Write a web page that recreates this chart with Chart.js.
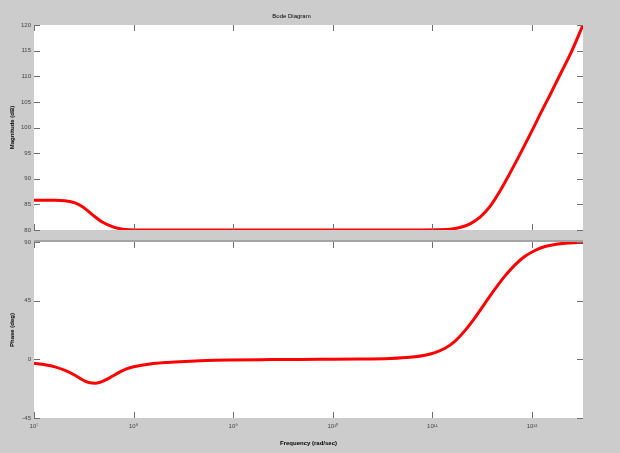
<!DOCTYPE html>
<html>
<head>
<meta charset="utf-8">
<script src="https://cdn.jsdelivr.net/npm/chart.js@4"></script>
<style>
  html, body { margin: 0; padding: 0; background: #cccccc; }
  #wrap { position: relative; width: 620px; height: 453px; background: #cccccc; overflow: hidden; }
  #wrap canvas { position: absolute; left: 0; }
  #mag { top: 0; }
  #phase { top: 236px; }
</style>
</head>
<body>
<div id="wrap">
  <canvas id="mag" width="620" height="236"></canvas>
  <canvas id="phase" width="620" height="217"></canvas>
</div>
<script>
// Bode diagram — magnitude (dB) and phase (deg) vs frequency (rad/sec)
const magFreq = [1.0e7, 1.62e7, 2.05e7, 2.58e7, 3.1e7, 3.9e7, 4.9e7, 6.2e7, 7.8e7, 1.03e8, 4.6e8, 4.7e9, 4.7e10,
  1.19e11, 1.5e11, 1.89e11, 2.39e11, 3.01e11, 3.79e11, 4.77e11, 6.01e11, 7.58e11, 9.55e11, 1.2e12, 1.52e12, 1.91e12, 2.41e12, 3.25e12];
const magDb = [85.8, 85.8, 85.7, 85.3, 84.5, 82.9, 81.5, 80.6, 80.15, 80.0, 80.0, 80.0, 80.0,
  80.05, 80.15, 80.5, 81.2, 82.5, 84.6, 87.6, 91.1, 94.8, 98.6, 102.5, 106.4, 110.3, 114.2, 120.0];

const phaseFreq = [1.0e7, 1.29e7, 1.62e7, 2.05e7, 2.58e7, 2.9e7, 3.25e7, 3.65e7, 4.1e7, 4.6e7, 5.16e7, 5.79e7, 6.51e7, 7.65e7, 9.2e7,
  1.16e8, 1.46e8, 2.07e8, 2.92e8, 4.64e8, 9.29e8, 2.34e9, 7.43e9, 1.87e10, 3.75e10, 5.96e10, 8.43e10,
  1.06e11, 1.34e11, 1.69e11, 2.12e11, 2.68e11, 3.37e11, 4.26e11, 5.36e11, 6.75e11, 8.51e11,
  1.07e12, 1.35e12, 1.82e12, 2.41e12, 3.25e12];
const phaseDeg = [-3, -4.2, -5.8, -8.5, -12.2, -14.6, -16.7, -18.0, -18.3, -17.6, -16.0, -14.0, -11.8, -8.8, -6.5,
  -4.8, -3.6, -2.5, -1.8, -1.1, -0.5, -0.2, 0, 0.2, 0.7, 1.6, 3.2,
  5.2, 8.5, 14, 22, 32, 43, 54, 64, 72.5, 79,
  83.5, 86.5, 88.5, 89.3, 89.7];

const xTickValues = [1e7, 1e8, 1e9, 1e10, 1e11, 1e12];
const xTickLabels = ["10\u2077", "10\u2078", "10\u2079", "10\u00b9\u2070", "10\u00b9\u00b9", "10\u00b9\u00b2"];
const magTicks = [80, 85, 90, 95, 100, 105, 110, 115, 120];
const phaseTicks = [-45, 0, 45, 90];

const X_MIN = 1e7, X_MAX = 3.25e12;
const FONT = "'Liberation Sans', Arial, sans-serif";
const RED = "#ff0000";

const pts = (xs, ys) => xs.map((x, i) => ({ x, y: ys[i] }));

// white plot background + inward tick marks like MATLAB axes
const plotFrame = {
  id: "plotFrame",
  beforeDraw(chart) {
    const { ctx, chartArea: a } = chart;
    ctx.save();
    ctx.fillStyle = "#ffffff";
    ctx.fillRect(a.left, a.top, a.right - a.left, a.bottom - a.top);
    if (chart.options.plugins.plotFrame.separator) {
      ctx.fillStyle = "#a4a4a4";
      ctx.fillRect(a.left, a.top - 2, a.right - a.left, 2);
    }
    ctx.restore();
  },
  afterDatasetsDraw(chart) {
    const { ctx, chartArea: a, scales } = chart;
    const len = 6;
    ctx.save();
    ctx.strokeStyle = "#707070";
    ctx.lineWidth = 1;
    ctx.beginPath();
    xTickValues.forEach(v => {
      const px = Math.round(scales.x.getPixelForValue(v)) + 0.5;
      ctx.moveTo(px, a.bottom); ctx.lineTo(px, a.bottom - len);
      ctx.moveTo(px, a.top); ctx.lineTo(px, a.top + len);
    });
    chart.options.plugins.plotFrame.yTicks.forEach(v => {
      const py = Math.round(scales.y.getPixelForValue(v)) + 0.5;
      ctx.moveTo(a.left, py); ctx.lineTo(a.left + len, py);
      ctx.moveTo(a.right, py); ctx.lineTo(a.right - len, py);
    });
    ctx.stroke();
    ctx.restore();
  }
};

function yAxis(min, max, ticks, title) {
  return {
    type: "linear", position: "left", min, max,
    afterBuildTicks: s => { s.ticks = ticks.map(v => ({ value: v })); },
    afterFit: s => { s.width = 34; },
    grid: { display: false, drawTicks: false },
    border: { display: false },
    ticks: { padding: 3, color: "#444", font: { family: FONT, size: 6, lineHeight: "6px" } },
    title: { display: true, text: title, color: "#000", padding: { top: 9, bottom: 0 },
             font: { family: FONT, size: 6, weight: "bold", lineHeight: "7px" } }
  };
}

function lineDataset(data) {
  return { data, borderColor: RED, borderWidth: 3, pointRadius: 0, fill: false,
           cubicInterpolationMode: "monotone" };
}

const common = {
  type: "line",
  plugins: [plotFrame]
};

new Chart(document.getElementById("mag"), {
  ...common,
  data: { datasets: [lineDataset(pts(magFreq, magDb))] },
  options: {
    responsive: false, animation: false, devicePixelRatio: 1,
    layout: { padding: { left: 0, right: 37, top: 0, bottom: 5 } },
    plugins: {
      legend: { display: false }, tooltip: { enabled: false },
      title: { display: true, text: "Bode Diagram", color: "#000",
               font: { family: FONT, size: 6, weight: "normal", lineHeight: "7px" },
               padding: { top: 13, bottom: 5 } },
      plotFrame: { yTicks: magTicks, separator: false }
    },
    scales: {
      x: { type: "logarithmic", min: X_MIN, max: X_MAX, display: false },
      y: yAxis(80, 120, magTicks, "Magnitude (dB)")
    }
  }
});

new Chart(document.getElementById("phase"), {
  ...common,
  data: { datasets: [lineDataset(pts(phaseFreq, phaseDeg))] },
  options: {
    responsive: false, animation: false, devicePixelRatio: 1,
    layout: { padding: { left: 0, right: 37, top: 3, bottom: 0 } },
    plugins: {
      legend: { display: false }, tooltip: { enabled: false },
      plotFrame: { yTicks: phaseTicks, separator: true }
    },
    scales: {
      x: {
        type: "logarithmic", min: X_MIN, max: X_MAX,
        afterBuildTicks: s => { s.ticks = xTickValues.map(v => ({ value: v })); },
        afterFit: s => { s.height = 35; },
        grid: { display: false, drawTicks: false },
        border: { display: false },
        ticks: { autoSkip: false, maxRotation: 0, padding: 5, color: "#444",
                 font: { family: FONT, size: 6, lineHeight: "7px" },
                 callback: (v, i) => xTickLabels[i] },
        title: { display: true, text: "Frequency (rad/sec)", color: "#000",
                 padding: { top: 0, bottom: 6 },
                 font: { family: FONT, size: 6, weight: "bold", lineHeight: "7px" } }
      },
      y: yAxis(-45, 90, phaseTicks, "Phase (deg)")
    }
  }
});
</script>
</body>
</html>
